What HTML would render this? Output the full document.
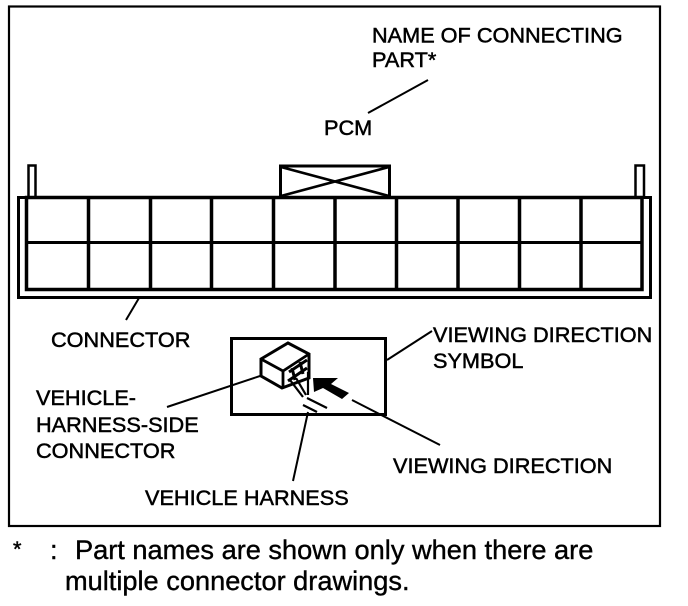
<!DOCTYPE html>
<html>
<head>
<meta charset="utf-8">
<style>
html,body{margin:0;padding:0;background:#fff;}
body{width:688px;height:606px;overflow:hidden;}
svg{display:block;}
text{font-family:"Liberation Sans",sans-serif;fill:#000;stroke:#000;stroke-width:.5px;}
.l{font-size:21.7px;}
.f{font-size:27.2px;stroke-width:.4px;}
</style>
</head>
<body>
<svg width="688" height="606" viewBox="0 0 688 606" xmlns="http://www.w3.org/2000/svg">
<g fill="none" stroke="#000" stroke-width="2">
  <!-- outer frame -->
  <rect x="9" y="6.500" width="651" height="519.500" stroke-width="2.200"/>
  <!-- side tabs -->
  <path d="M28.500 197V165.500H35.500V197" stroke-width="2.500"/>
  <path d="M635.500 197V165.500H644V197" stroke-width="2.500"/>
  <!-- connector shell -->
  <path d="M18.500 197.500H650.500V297.500H18.500Z" stroke-width="3"/>
  <!-- grid -->
  <rect x="26.500" y="197.500" width="615.500" height="92" stroke-width="3.500"/>
  <path d="M26.500 242.500H642" stroke-width="3"/>
  <path d="M88.500 197V289M150.500 197V289M211.500 197V289M273.500 197V289M335 197V289M396.500 197V289M458 197V289M519.500 197V289M581 197V289" stroke-width="3.500"/>
  <!-- key block -->
  <path d="M280.500 197V166H389.500V197" stroke-width="3"/>
  <path d="M281 167L389 196M281 196L389 167" stroke-width="2.600"/>
  <!-- leader lines -->
  <path d="M368 113L428 80" stroke-width="2"/>
  <path d="M139 298L126 320" stroke-width="2"/>
  <path d="M387 360L432 331" stroke-width="2"/>
  <path d="M167 407L263 375" stroke-width="2"/>
  <path d="M352 400L440 445" stroke-width="2"/>
  <path d="M308 412L293 481" stroke-width="2"/>
  <!-- symbol box -->
  <rect x="231.500" y="338.500" width="154" height="76" stroke-width="3"/>
  <!-- connector icon -->
  <path d="M261 359L288 343L309 354V378L282 388L261 376Z" fill="#fff" stroke-width="3"/>
  <path d="M261 359L283 371L309 354M283 371V388" stroke-width="2.800"/>
  <path d="M289 372L307 360M288 381L307 368M292 368L295 380M300 362L303 374" stroke-width="3"/>
  <path d="M290 380L303 397M296 378L306 395M308 372V395" stroke-width="2.200"/>
  <path d="M307 398L327 408M303 405L317 412" stroke-width="2.200"/>
</g>
<!-- viewing arrow -->
<path d="M313 378H338L331 384L349 393L342 399L323 388L314 392Z" fill="#000"/>

<text class="l" x="372" y="42.500">NAME OF CONNECTING</text>
<text class="l" x="372" y="67">PART*</text>
<text class="l" x="324" y="135">PCM</text>
<text class="l" x="51" y="347">CONNECTOR</text>
<text class="l" x="433" y="342">VIEWING DIRECTION</text>
<text class="l" x="433" y="368">SYMBOL</text>
<text class="l" x="36" y="405">VEHICLE-</text>
<text class="l" x="36" y="432">HARNESS-SIDE</text>
<text class="l" x="36" y="458">CONNECTOR</text>
<text class="l" x="393" y="473">VIEWING DIRECTION</text>
<text class="l" x="145" y="505">VEHICLE HARNESS</text>
<text class="l" x="13" y="556">*</text>
<text class="f" x="50" y="559">:</text>
<text class="f" x="75" y="559">Part names are shown only when there are</text>
<text class="f" x="65" y="590">multiple connector drawings.</text>
</svg>
</body>
</html>
